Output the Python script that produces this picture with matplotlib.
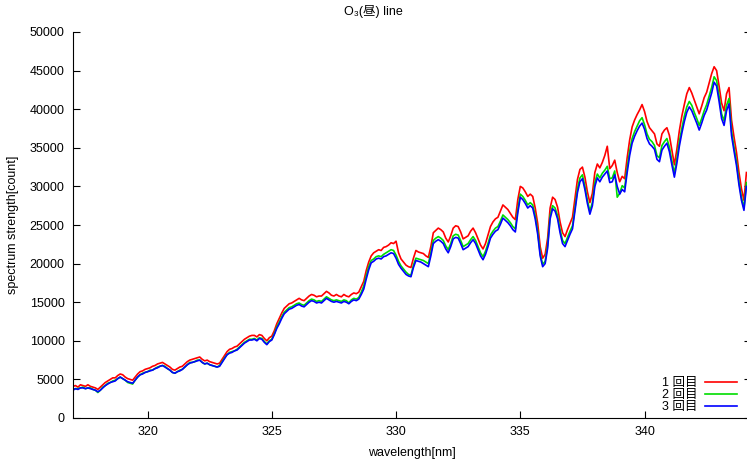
import numpy as np
import matplotlib
matplotlib.use("Agg")
import matplotlib.pyplot as plt

plt.rcParams['font.family'] = ['Liberation Sans', 'Noto Sans CJK JP', 'DejaVu Sans']

# wavelength grid, 0.1 nm steps
wl = np.round(np.arange(317.0, 344.15, 0.1), 1)

# spectra, in units of 100 counts
s1 = [41, 42, 40, 43, 42, 41, 43, 41, 40, 39,
      37, 40, 43, 46, 48, 50, 52, 52, 55, 57,
      56, 53, 51, 50, 49, 53, 57, 60, 61, 63,
      64, 65, 67, 68, 70, 71, 72, 70, 68, 66,
      63, 62, 64, 66, 67, 70, 73, 75, 76, 77,
      78, 79, 76, 74, 75, 73, 72, 71, 70, 71,
      76, 81, 86, 89, 90, 92, 93, 96, 99, 102,
      104, 106, 107, 107, 105, 108, 107, 103, 100, 104,
      106, 113, 122, 129, 136, 142, 145, 148, 149, 151,
      153, 155, 153, 152, 155, 158, 160, 159, 157, 158,
      158, 161, 164, 162, 159, 158, 160, 158, 157, 160,
      158, 157, 160, 162, 161, 163, 170, 177, 191, 202,
      210, 214, 216, 218, 217, 221, 222, 224, 227, 226,
      229, 214, 206, 202, 198, 196, 195, 207, 217, 215,
      214, 213, 210, 208, 222, 240, 243, 246, 244, 241,
      233, 228, 236, 246, 249, 248, 241, 232, 234, 236,
      242, 246, 240, 232, 224, 219, 226, 237, 248, 254,
      258, 260, 268, 276, 273, 270, 265, 260, 257, 283,
      300, 298, 293, 287, 290, 287, 272, 252, 222, 207,
      212, 233, 272, 286, 283, 273, 254, 240, 235, 244,
      252, 260, 284, 309, 322, 325, 312, 293, 279, 291,
      318, 329, 324, 331, 340, 352, 323, 327, 334, 318,
      306, 313, 310, 337, 360, 377, 386, 393, 399, 406,
      397, 384, 376, 372, 368, 355, 352, 368, 373, 376,
      366, 347, 328, 348, 372, 391, 406, 420, 428, 421,
      412, 403, 394, 404, 415, 422, 434, 446, 455, 450,
      430, 408, 398, 420, 428, 386, 364, 344, 318, 297,
      282, 318]

s2 = [37, 38, 38, 39, 40, 38, 39, 39, 37, 36,
      33, 36, 40, 42, 45, 46, 48, 49, 51, 53,
      51, 49, 46, 45, 44, 49, 53, 56, 58, 59,
      60, 62, 62, 64, 66, 67, 68, 67, 64, 62,
      59, 58, 60, 62, 63, 66, 69, 72, 72, 73,
      75, 75, 72, 70, 71, 69, 68, 67, 66, 68,
      73, 78, 82, 85, 86, 87, 89, 92, 95, 98,
      100, 102, 102, 103, 101, 104, 103, 99, 96, 100,
      102, 109, 118, 124, 131, 137, 140, 143, 144, 146,
      148, 149, 147, 146, 149, 152, 154, 153, 151, 152,
      151, 154, 157, 155, 153, 152, 153, 152, 151, 153,
      152, 149, 153, 155, 154, 156, 163, 171, 184, 196,
      204, 206, 209, 210, 209, 212, 214, 216, 218, 217,
      211, 203, 197, 193, 189, 186, 185, 198, 207, 206,
      205, 204, 202, 200, 214, 230, 233, 235, 233, 230,
      223, 218, 226, 236, 238, 237, 230, 222, 224, 226,
      231, 235, 230, 222, 214, 209, 216, 226, 237, 242,
      246, 248, 255, 263, 260, 257, 253, 248, 245, 270,
      290, 287, 282, 276, 279, 276, 262, 242, 213, 199,
      203, 224, 262, 275, 272, 262, 244, 230, 226, 234,
      242, 249, 272, 297, 311, 315, 300, 282, 268, 279,
      305, 316, 311, 317, 321, 326, 310, 311, 320, 286,
      291, 301, 298, 324, 346, 362, 371, 378, 385, 389,
      380, 368, 361, 358, 353, 340, 337, 353, 358, 362,
      351, 333, 317, 336, 358, 375, 391, 403, 410, 405,
      396, 388, 379, 388, 398, 406, 417, 428, 442, 437,
      417, 394, 385, 405, 414, 372, 351, 332, 306, 286,
      272, 305]

s3 = [36, 38, 37, 39, 39, 38, 39, 38, 37, 36,
      34, 36, 39, 42, 44, 46, 47, 48, 51, 53,
      51, 49, 47, 46, 45, 49, 53, 56, 57, 59,
      60, 61, 62, 64, 65, 67, 68, 66, 64, 62,
      59, 58, 60, 61, 63, 66, 69, 71, 72, 73,
      74, 75, 72, 70, 71, 69, 68, 67, 66, 67,
      72, 77, 82, 84, 85, 87, 88, 91, 94, 97,
      99, 101, 101, 102, 100, 103, 102, 98, 95, 99,
      101, 108, 116, 122, 129, 135, 138, 141, 142, 144,
      146, 147, 145, 144, 147, 150, 152, 151, 149, 150,
      149, 152, 155, 153, 151, 150, 151, 150, 149, 151,
      150, 148, 151, 153, 152, 154, 160, 167, 180, 192,
      201, 203, 206, 207, 206, 209, 210, 212, 214, 213,
      207, 199, 194, 190, 186, 184, 183, 195, 204, 203,
      202, 200, 198, 196, 210, 226, 229, 231, 229, 226,
      219, 214, 222, 232, 234, 233, 226, 218, 220, 222,
      227, 231, 226, 218, 210, 205, 212, 222, 233, 238,
      242, 244, 251, 259, 256, 253, 249, 244, 241, 266,
      286, 283, 278, 272, 275, 272, 258, 238, 210, 196,
      200, 220, 258, 271, 268, 258, 240, 226, 222, 230,
      238, 245, 268, 292, 306, 310, 296, 278, 264, 275,
      300, 311, 306, 312, 316, 320, 305, 306, 315, 300,
      290, 296, 293, 318, 340, 356, 365, 372, 378, 382,
      374, 362, 355, 352, 348, 335, 332, 347, 352, 356,
      345, 328, 312, 330, 352, 369, 384, 396, 403, 398,
      390, 382, 373, 382, 392, 399, 410, 421, 435, 430,
      410, 388, 379, 398, 407, 366, 346, 327, 302, 282,
      269, 300]

labels = ['1 回目', '2 回目', '3 回目']
colors = ['#ff0000', '#00dd00', '#0000ff']

fig = plt.figure(figsize=(7.47, 4.62), dpi=100)
ax = fig.add_axes([73/747, 44/462, 678/747, 386/462])

for s, lab, c in zip([s1, s2, s3], labels, colors):
    ax.plot(wl, np.array(s) * 100, color=c, lw=1.2, label=lab)

ax.set_xlim(317.0, 317.0 + 678/24.85)
ax.set_ylim(0, 50000)
ax.set_xticks([320, 325, 330, 335, 340])
ax.set_yticks(np.arange(0, 50001, 5000))
ax.tick_params(direction='in', length=5, width=0.8, labelsize=9, pad=6,
               right=True, top=False)
ax.spines['top'].set_visible(False)
ax.spines['right'].set_visible(False)

fig.text(0.5, 1 - 12/462, 'O\u2083(昼) line', ha='center', va='center', fontsize=9)
ax.set_xlabel('wavelength[nm]', fontsize=9, labelpad=6)
ax.set_ylabel('spectrum strength[count]', fontsize=9, labelpad=8)

ax.legend(loc='lower right', bbox_to_anchor=(737/747, 49/462), bbox_transform=fig.transFigure,
          frameon=False, markerfirst=False, fontsize=9, labelspacing=0,
          handlelength=2.6, handletextpad=0.6, borderpad=0, borderaxespad=0)

fig.savefig('out.png', dpi=100)
